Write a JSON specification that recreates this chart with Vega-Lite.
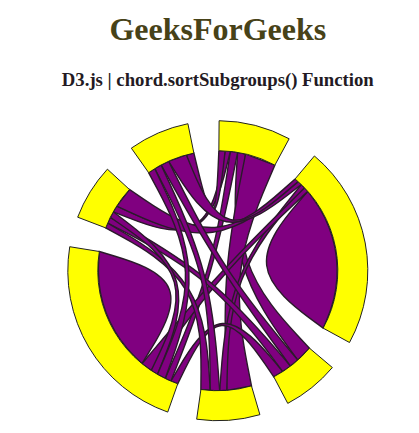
{
  "$schema": "https://vega.github.io/schema/vega-lite/v6.json",
  "autosize": {"type": "none"},
  "padding": {"left": 16.6, "top": 108.4, "right": 0, "bottom": 0},
  "width": 402.4,
  "height": 324.6,
  "background": "white",
  "config": {"view": {"stroke": null}},
  "title": {
    "text": "GeeksForGeeks",
    "subtitle": "D3.js | chord.sortSubgroups() Function",
    "font": "Liberation Serif",
    "fontSize": 32,
    "fontWeight": "bold",
    "color": "#474218",
    "subtitleFont": "Liberation Serif",
    "subtitleFontSize": 18.72,
    "subtitleFontWeight": "bold",
    "subtitleColor": "#231a23",
    "subtitlePadding": 24.5,
    "offset": 17.5,
    "anchor": "middle",
    "frame": "group"
  },
  "layer": [
    {
      "data": {"values": [
        {"id":"A11","i":0,"x":90.01,"y":79.36},{"id":"A11","i":1,"x":90.01,"y":79.36},{"id":"A11","i":2,"x":90.01,"y":79.36},
        {"id":"A11","i":3,"x":102.43,"y":62.52},{"id":"A11","i":4,"x":111.73,"y":43.79},{"id":"A11","i":5,"x":117.63,"y":23.72},
        {"id":"A11","i":6,"x":119.96,"y":2.93},{"id":"A11","i":7,"x":118.65,"y":-17.94},{"id":"A11","i":8,"x":113.73,"y":-38.28},
        {"id":"A11","i":9,"x":105.36,"y":-57.44},{"id":"A11","i":10,"x":105.36,"y":-57.44},{"id":"A11","i":11,"x":105.36,"y":-57.44},
        {"id":"A11","i":12,"x":24.42,"y":2.74},
        {"id":"A11","i":13,"x":90.01,"y":79.36},{"id":"A11","i":14,"x":90.01,"y":79.36},{"id":"A11","i":15,"x":90.01,"y":79.36},

        {"id":"A44","i":0,"x":-75.84,"y":-92.99},{"id":"A44","i":1,"x":-75.84,"y":-92.99},{"id":"A44","i":2,"x":-75.84,"y":-92.99},
        {"id":"A44","i":3,"x":-90.84,"y":-78.41},{"id":"A44","i":4,"x":-103.08,"y":-61.45},{"id":"A44","i":5,"x":-112.18,"y":-42.61},
        {"id":"A44","i":6,"x":-117.88,"y":-22.49},{"id":"A44","i":7,"x":-119.99,"y":-1.68},
        {"id":"A44","i":8,"x":-118.46,"y":19.19},{"id":"A44","i":9,"x":-118.46,"y":19.19},{"id":"A44","i":10,"x":-118.46,"y":19.19},
        {"id":"A44","i":11,"x":-24.29,"y":-9.23},
        {"id":"A44","i":12,"x":-75.84,"y":-92.99},{"id":"A44","i":13,"x":-75.84,"y":-92.99},{"id":"A44","i":14,"x":-75.84,"y":-92.99},

        {"id":"B02","i":0,"x":19.81,"y":118.35},{"id":"B02","i":1,"x":19.81,"y":118.35},{"id":"B02","i":2,"x":19.81,"y":118.35},
        {"id":"B02","i":3,"x":27.81,"y":116.73},{"id":"B02","i":4,"x":27.81,"y":116.73},{"id":"B02","i":5,"x":27.81,"y":116.73},
        {"id":"B02","i":6,"x":14.93,"y":4.91},
        {"id":"B02","i":7,"x":91.66,"y":-77.46},{"id":"B02","i":8,"x":91.66,"y":-77.46},{"id":"B02","i":9,"x":91.66,"y":-77.46},
        {"id":"B02","i":10,"x":79.98,"y":-89.46},{"id":"B02","i":11,"x":79.98,"y":-89.46},{"id":"B02","i":12,"x":79.98,"y":-89.46},
        {"id":"B02","i":13,"x":12.47,"y":3.61},
        {"id":"B02","i":14,"x":19.81,"y":118.35},{"id":"B02","i":15,"x":19.81,"y":118.35},{"id":"B02","i":16,"x":19.81,"y":118.35},

        {"id":"B03","i":0,"x":27.81,"y":116.73},{"id":"B03","i":1,"x":27.81,"y":116.73},{"id":"B03","i":2,"x":27.81,"y":116.73},
        {"id":"B03","i":3,"x":57.07,"y":105.56},{"id":"B03","i":4,"x":57.07,"y":105.56},{"id":"B03","i":5,"x":57.07,"y":105.56},
        {"id":"B03","i":6,"x":11.34,"y":-1.2},
        {"id":"B03","i":7,"x":33.68,"y":-115.18},{"id":"B03","i":8,"x":33.68,"y":-115.18},{"id":"B03","i":9,"x":33.68,"y":-115.18},
        {"id":"B03","i":10,"x":9.0,"y":-119.66},{"id":"B03","i":11,"x":9.0,"y":-119.66},{"id":"B03","i":12,"x":9.0,"y":-119.66},
        {"id":"B03","i":13,"x":4.6,"y":-0.37},
        {"id":"B03","i":14,"x":27.81,"y":116.73},{"id":"B03","i":15,"x":27.81,"y":116.73},{"id":"B03","i":16,"x":27.81,"y":116.73},

        {"id":"B04","i":0,"x":12.54,"y":119.34},{"id":"B04","i":1,"x":12.54,"y":119.34},{"id":"B04","i":2,"x":12.54,"y":119.34},
        {"id":"B04","i":3,"x":19.81,"y":118.35},{"id":"B04","i":4,"x":19.81,"y":118.35},{"id":"B04","i":5,"x":19.81,"y":118.35},
        {"id":"B04","i":6,"x":-3.39,"y":0.99},
        {"id":"B04","i":7,"x":-46.89,"y":-110.46},{"id":"B04","i":8,"x":-46.89,"y":-110.46},{"id":"B04","i":9,"x":-46.89,"y":-110.46},
        {"id":"B04","i":10,"x":-52.6,"y":-107.85},{"id":"B04","i":11,"x":-52.6,"y":-107.85},{"id":"B04","i":12,"x":-52.6,"y":-107.85},
        {"id":"B04","i":13,"x":-5.01,"y":1.44},
        {"id":"B04","i":14,"x":12.54,"y":119.34},{"id":"B04","i":15,"x":12.54,"y":119.34},{"id":"B04","i":16,"x":12.54,"y":119.34},

        {"id":"B05","i":0,"x":7.33,"y":119.78},{"id":"B05","i":1,"x":7.33,"y":119.78},{"id":"B05","i":2,"x":7.33,"y":119.78},
        {"id":"B05","i":3,"x":12.54,"y":119.34},{"id":"B05","i":4,"x":12.54,"y":119.34},{"id":"B05","i":5,"x":12.54,"y":119.34},
        {"id":"B05","i":6,"x":-11.5,"y":22.28},
        {"id":"B05","i":7,"x":-104.55,"y":58.91},{"id":"B05","i":8,"x":-104.55,"y":58.91},{"id":"B05","i":9,"x":-104.55,"y":58.91},
        {"id":"B05","i":10,"x":-101.09,"y":64.65},{"id":"B05","i":11,"x":-101.09,"y":64.65},{"id":"B05","i":12,"x":-101.09,"y":64.65},
        {"id":"B05","i":13,"x":-11.72,"y":23.05},
        {"id":"B05","i":14,"x":7.33,"y":119.78},{"id":"B05","i":15,"x":7.33,"y":119.78},{"id":"B05","i":16,"x":7.33,"y":119.78},

        {"id":"B06","i":0,"x":1.05,"y":120.0},{"id":"B06","i":1,"x":1.05,"y":120.0},{"id":"B06","i":2,"x":1.05,"y":120.0},
        {"id":"B06","i":3,"x":7.33,"y":119.78},{"id":"B06","i":4,"x":7.33,"y":119.78},{"id":"B06","i":5,"x":7.33,"y":119.78},
        {"id":"B06","i":6,"x":-3.02,"y":29.45},
        {"id":"B06","i":7,"x":-31.46,"y":115.8},{"id":"B06","i":8,"x":-31.46,"y":115.8},{"id":"B06","i":9,"x":-31.46,"y":115.8},
        {"id":"B06","i":10,"x":-23.92,"y":117.59},{"id":"B06","i":11,"x":-23.92,"y":117.59},{"id":"B06","i":12,"x":-23.92,"y":117.59},
        {"id":"B06","i":13,"x":-2.86,"y":29.7},
        {"id":"B06","i":14,"x":1.05,"y":120.0},{"id":"B06","i":15,"x":1.05,"y":120.0},{"id":"B06","i":16,"x":1.05,"y":120.0},

        {"id":"B13","i":0,"x":83.51,"y":86.18},{"id":"B13","i":1,"x":83.51,"y":86.18},{"id":"B13","i":2,"x":83.51,"y":86.18},
        {"id":"B13","i":3,"x":86.83,"y":82.83},{"id":"B13","i":4,"x":86.83,"y":82.83},{"id":"B13","i":5,"x":86.83,"y":82.83},
        {"id":"B13","i":6,"x":11.98,"y":-4.6},
        {"id":"B13","i":7,"x":9.0,"y":-119.66},{"id":"B13","i":8,"x":9.0,"y":-119.66},{"id":"B13","i":9,"x":9.0,"y":-119.66},
        {"id":"B13","i":10,"x":1.88,"y":-119.99},{"id":"B13","i":11,"x":1.88,"y":-119.99},{"id":"B13","i":12,"x":1.88,"y":-119.99},
        {"id":"B13","i":13,"x":10.67,"y":-4.23},
        {"id":"B13","i":14,"x":83.51,"y":86.18},{"id":"B13","i":15,"x":83.51,"y":86.18},{"id":"B13","i":16,"x":83.51,"y":86.18},

        {"id":"B14","i":0,"x":86.83,"y":82.83},{"id":"B14","i":1,"x":86.83,"y":82.83},{"id":"B14","i":2,"x":86.83,"y":82.83},
        {"id":"B14","i":3,"x":90.01,"y":79.36},{"id":"B14","i":4,"x":90.01,"y":79.36},{"id":"B14","i":5,"x":90.01,"y":79.36},
        {"id":"B14","i":6,"x":2.93,"y":-2.56},
        {"id":"B14","i":7,"x":-66.58,"y":-99.83},{"id":"B14","i":8,"x":-66.58,"y":-99.83},{"id":"B14","i":9,"x":-66.58,"y":-99.83},
        {"id":"B14","i":10,"x":-75.84,"y":-92.99},{"id":"B14","i":11,"x":-75.84,"y":-92.99},{"id":"B14","i":12,"x":-75.84,"y":-92.99},
        {"id":"B14","i":13,"x":1.37,"y":-1.27},
        {"id":"B14","i":14,"x":86.83,"y":82.83},{"id":"B14","i":15,"x":86.83,"y":82.83},{"id":"B14","i":16,"x":86.83,"y":82.83},

        {"id":"B15","i":0,"x":77.29,"y":91.79},{"id":"B15","i":1,"x":77.29,"y":91.79},{"id":"B15","i":2,"x":77.29,"y":91.79},
        {"id":"B15","i":3,"x":80.45,"y":89.04},{"id":"B15","i":4,"x":80.45,"y":89.04},{"id":"B15","i":5,"x":80.45,"y":89.04},
        {"id":"B15","i":6,"x":-2.58,"y":19.21},
        {"id":"B15","i":7,"x":-101.09,"y":64.65},{"id":"B15","i":8,"x":-101.09,"y":64.65},{"id":"B15","i":9,"x":-101.09,"y":64.65},
        {"id":"B15","i":10,"x":-88.33,"y":81.23},{"id":"B15","i":11,"x":-88.33,"y":81.23},{"id":"B15","i":12,"x":-88.33,"y":81.23},
        {"id":"B15","i":13,"x":-1.38,"y":21.63},
        {"id":"B15","i":14,"x":77.29,"y":91.79},{"id":"B15","i":15,"x":77.29,"y":91.79},{"id":"B15","i":16,"x":77.29,"y":91.79},

        {"id":"B16","i":0,"x":80.45,"y":89.04},{"id":"B16","i":1,"x":80.45,"y":89.04},{"id":"B16","i":2,"x":80.45,"y":89.04},
        {"id":"B16","i":3,"x":83.51,"y":86.18},{"id":"B16","i":4,"x":83.51,"y":86.18},{"id":"B16","i":5,"x":83.51,"y":86.18},
        {"id":"B16","i":6,"x":4.29,"y":24.45},
        {"id":"B16","i":7,"x":-49.19,"y":109.45},{"id":"B16","i":8,"x":-49.19,"y":109.45},{"id":"B16","i":9,"x":-49.19,"y":109.45},
        {"id":"B16","i":10,"x":-31.46,"y":115.8},{"id":"B16","i":11,"x":-31.46,"y":115.8},{"id":"B16","i":12,"x":-31.46,"y":115.8},
        {"id":"B16","i":13,"x":6.12,"y":25.61},
        {"id":"B16","i":14,"x":80.45,"y":89.04},{"id":"B16","i":15,"x":80.45,"y":89.04},{"id":"B16","i":16,"x":80.45,"y":89.04},

        {"id":"B24","i":0,"x":65.01,"y":-100.87},{"id":"B24","i":1,"x":65.01,"y":-100.87},{"id":"B24","i":2,"x":65.01,"y":-100.87},
        {"id":"B24","i":3,"x":55.97,"y":-106.15},{"id":"B24","i":4,"x":55.97,"y":-106.15},{"id":"B24","i":5,"x":55.97,"y":-106.15},
        {"id":"B24","i":6,"x":1.99,"y":-27.41},
        {"id":"B24","i":7,"x":-40.06,"y":-113.12},{"id":"B24","i":8,"x":-40.06,"y":-113.12},{"id":"B24","i":9,"x":-40.06,"y":-113.12},
        {"id":"B24","i":10,"x":-46.89,"y":-110.46},{"id":"B24","i":11,"x":-46.89,"y":-110.46},{"id":"B24","i":12,"x":-46.89,"y":-110.46},
        {"id":"B24","i":13,"x":2.27,"y":-26.42},
        {"id":"B24","i":14,"x":65.01,"y":-100.87},{"id":"B24","i":15,"x":65.01,"y":-100.87},{"id":"B24","i":16,"x":65.01,"y":-100.87},

        {"id":"B25","i":0,"x":72.72,"y":-95.46},{"id":"B25","i":1,"x":72.72,"y":-95.46},{"id":"B25","i":2,"x":72.72,"y":-95.46},
        {"id":"B25","i":3,"x":65.01,"y":-100.87},{"id":"B25","i":4,"x":65.01,"y":-100.87},{"id":"B25","i":5,"x":65.01,"y":-100.87},
        {"id":"B25","i":6,"x":-5.64,"y":-6.65},
        {"id":"B25","i":7,"x":-110.13,"y":47.66},{"id":"B25","i":8,"x":-110.13,"y":47.66},{"id":"B25","i":9,"x":-110.13,"y":47.66},
        {"id":"B25","i":10,"x":-107.49,"y":53.36},{"id":"B25","i":11,"x":-107.49,"y":53.36},{"id":"B25","i":12,"x":-107.49,"y":53.36},
        {"id":"B25","i":13,"x":-4.35,"y":-5.26},
        {"id":"B25","i":14,"x":72.72,"y":-95.46},{"id":"B25","i":15,"x":72.72,"y":-95.46},{"id":"B25","i":16,"x":72.72,"y":-95.46},

        {"id":"B26","i":0,"x":79.98,"y":-89.46},{"id":"B26","i":1,"x":79.98,"y":-89.46},{"id":"B26","i":2,"x":79.98,"y":-89.46},
        {"id":"B26","i":3,"x":72.72,"y":-95.46},{"id":"B26","i":4,"x":72.72,"y":-95.46},{"id":"B26","i":5,"x":72.72,"y":-95.46},
        {"id":"B26","i":6,"x":2.0,"y":1.29},
        {"id":"B26","i":7,"x":-56.71,"y":105.76},{"id":"B26","i":8,"x":-56.71,"y":105.76},{"id":"B26","i":9,"x":-56.71,"y":105.76},
        {"id":"B26","i":10,"x":-49.19,"y":109.45},{"id":"B26","i":11,"x":-49.19,"y":109.45},{"id":"B26","i":12,"x":-49.19,"y":109.45},
        {"id":"B26","i":13,"x":3.85,"y":2.5},
        {"id":"B26","i":14,"x":79.98,"y":-89.46},{"id":"B26","i":15,"x":79.98,"y":-89.46},{"id":"B26","i":16,"x":79.98,"y":-89.46},

        {"id":"B35","i":0,"x":-7.53,"y":-119.76},{"id":"B35","i":1,"x":-7.53,"y":-119.76},{"id":"B35","i":2,"x":-7.53,"y":-119.76},
        {"id":"B35","i":3,"x":-16.91,"y":-118.8},{"id":"B35","i":4,"x":-16.91,"y":-118.8},{"id":"B35","i":5,"x":-16.91,"y":-118.8},
        {"id":"B35","i":6,"x":-16.13,"y":-9.5},
        {"id":"B35","i":7,"x":-112.1,"y":42.81},{"id":"B35","i":8,"x":-112.1,"y":42.81},{"id":"B35","i":9,"x":-112.1,"y":42.81},
        {"id":"B35","i":10,"x":-110.13,"y":47.66},{"id":"B35","i":11,"x":-110.13,"y":47.66},{"id":"B35","i":12,"x":-110.13,"y":47.66},
        {"id":"B35","i":13,"x":-14.71,"y":-9.01},
        {"id":"B35","i":14,"x":-7.53,"y":-119.76},{"id":"B35","i":15,"x":-7.53,"y":-119.76},{"id":"B35","i":16,"x":-7.53,"y":-119.76},

        {"id":"B36","i":0,"x":1.88,"y":-119.99},{"id":"B36","i":1,"x":1.88,"y":-119.99},{"id":"B36","i":2,"x":1.88,"y":-119.99},
        {"id":"B36","i":3,"x":-7.53,"y":-119.76},{"id":"B36","i":4,"x":-7.53,"y":-119.76},{"id":"B36","i":5,"x":-7.53,"y":-119.76},
        {"id":"B36","i":6,"x":-8.82,"y":-2.21},
        {"id":"B36","i":7,"x":-63.06,"y":102.1},{"id":"B36","i":8,"x":-63.06,"y":102.1},{"id":"B36","i":9,"x":-63.06,"y":102.1},
        {"id":"B36","i":10,"x":-56.71,"y":105.76},{"id":"B36","i":11,"x":-56.71,"y":105.76},{"id":"B36","i":12,"x":-56.71,"y":105.76},
        {"id":"B36","i":13,"x":-6.85,"y":-1.78},
        {"id":"B36","i":14,"x":1.88,"y":-119.99},{"id":"B36","i":15,"x":1.88,"y":-119.99},{"id":"B36","i":16,"x":1.88,"y":-119.99},

        {"id":"B45","i":0,"x":-60.36,"y":-103.71},{"id":"B45","i":1,"x":-60.36,"y":-103.71},{"id":"B45","i":2,"x":-60.36,"y":-103.71},
        {"id":"B45","i":3,"x":-66.58,"y":-99.83},{"id":"B45","i":4,"x":-66.58,"y":-99.83},{"id":"B45","i":5,"x":-66.58,"y":-99.83},
        {"id":"B45","i":6,"x":-21.76,"y":-5.81},
        {"id":"B45","i":7,"x":-107.49,"y":53.36},{"id":"B45","i":8,"x":-107.49,"y":53.36},{"id":"B45","i":9,"x":-107.49,"y":53.36},
        {"id":"B45","i":10,"x":-104.55,"y":58.91},{"id":"B45","i":11,"x":-104.55,"y":58.91},{"id":"B45","i":12,"x":-104.55,"y":58.91},
        {"id":"B45","i":13,"x":-20.61,"y":-5.6},
        {"id":"B45","i":14,"x":-60.36,"y":-103.71},{"id":"B45","i":15,"x":-60.36,"y":-103.71},{"id":"B45","i":16,"x":-60.36,"y":-103.71},

        {"id":"B46","i":0,"x":-52.6,"y":-107.85},{"id":"B46","i":1,"x":-52.6,"y":-107.85},{"id":"B46","i":2,"x":-52.6,"y":-107.85},
        {"id":"B46","i":3,"x":-60.36,"y":-103.71},{"id":"B46","i":4,"x":-60.36,"y":-103.71},{"id":"B46","i":5,"x":-60.36,"y":-103.71},
        {"id":"B46","i":6,"x":-16.19,"y":-0.71},
        {"id":"B46","i":7,"x":-69.17,"y":98.06},{"id":"B46","i":8,"x":-69.17,"y":98.06},{"id":"B46","i":9,"x":-69.17,"y":98.06},
        {"id":"B46","i":10,"x":-63.06,"y":102.1},{"id":"B46","i":11,"x":-63.06,"y":102.1},{"id":"B46","i":12,"x":-63.06,"y":102.1},
        {"id":"B46","i":13,"x":-14.46,"y":-0.72},
        {"id":"B46","i":14,"x":-52.6,"y":-107.85},{"id":"B46","i":15,"x":-52.6,"y":-107.85},{"id":"B46","i":16,"x":-52.6,"y":-107.85}
      ]},
      "mark": {"type": "line", "interpolate": "basis", "filled": true, "color": "#800080", "stroke": "#2a1a2a", "strokeWidth": 1.4},
      "encoding": {
        "x": {"field": "x", "type": "quantitative", "scale": {"domain": [-201.2, 201.2], "nice": false, "zero": false}, "axis": null},
        "y": {"field": "y", "type": "quantitative", "scale": {"domain": [-162.3, 162.3], "nice": false, "zero": false}, "axis": null},
        "detail": {"field": "id", "type": "nominal"},
        "order": {"field": "i", "type": "quantitative"}
      }
    },
    {
      "data": {"values": [
        {"g": "G0", "start": 0.5, "end": 28.4},
        {"g": "G1", "start": 40.1, "end": 118.6},
        {"g": "G2", "start": 130.2, "end": 152.2},
        {"g": "G3", "start": 163.7, "end": 188.1},
        {"g": "G4", "start": 199.5, "end": 279.2},
        {"g": "G5", "start": 290.9, "end": 312.6},
        {"g": "G6", "start": 324.8, "end": 348.5}
      ]},
      "mark": {"type": "arc", "radius": 150, "radius2": 120, "fill": "#ffff00", "stroke": "#222222", "strokeWidth": 1},
      "encoding": {
        "theta": {"field": "start", "type": "quantitative", "stack": null, "scale": {"domain": [0, 360], "range": [0, 6.283185307179586]}},
        "theta2": {"field": "end"}
      }
    }
  ]
}
